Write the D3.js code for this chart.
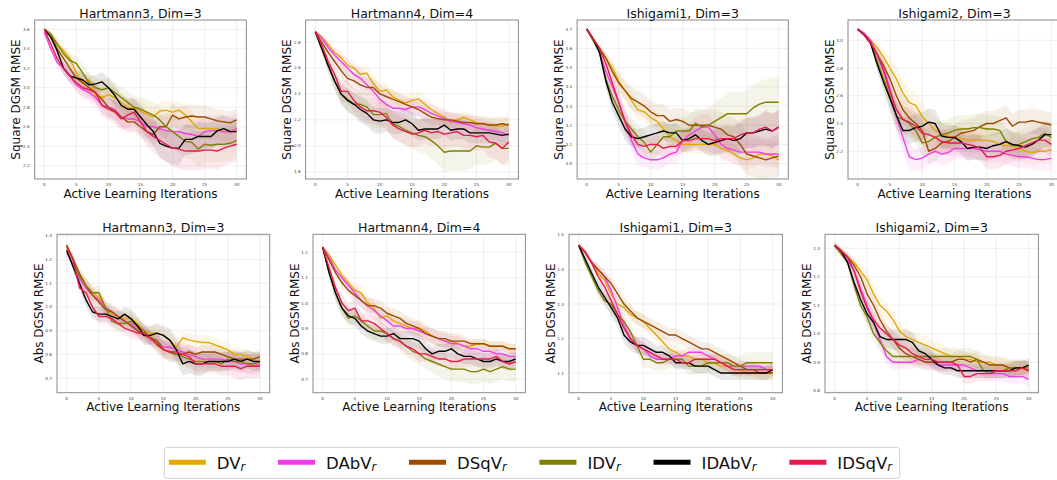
<!DOCTYPE html>
<html>
<head>
<meta charset="utf-8">
<script src="https://cdn.jsdelivr.net/npm/d3@7"></script>
<style>
  body { margin: 0; background: #fff; }
  svg { display: block; font-family: "DejaVu Sans", sans-serif; }
</style>
</head>
<body>
<script>
//<data>--------------------------------------------//
const iterations = d3.range(0, 31);
const xTickValues = [0, 5, 10, 15, 20, 25, 30];
const methodNames = ["DV", "DAbV", "DSqV", "IDV", "IDAbV", "IDSqV"];
const methodColors = ["#e2a800", "#f23de6", "#9c4a00", "#808000", "#000000", "#e8194c"];
const panelTitles = ["Hartmann3, Dim=3", "Hartmann4, Dim=4", "Ishigami1, Dim=3", "Ishigami2, Dim=3",
                     "Hartmann3, Dim=3", "Hartmann4, Dim=4", "Ishigami1, Dim=3", "Ishigami2, Dim=3"];
const panelYLabels = ["Square DGSM RMSE", "Square DGSM RMSE", "Square DGSM RMSE", "Square DGSM RMSE",
                      "Abs DGSM RMSE", "Abs DGSM RMSE", "Abs DGSM RMSE", "Abs DGSM RMSE"];
const xLabel = "Active Learning Iterations";
const panelYTicks = [
  [2.2, 2.4, 2.6, 2.8, 3.0, 3.2, 3.4, 3.6],
  [1.8, 2.0, 2.2, 2.4, 2.6, 2.8],
  [3.0, 3.1, 3.2, 3.3, 3.4, 3.5, 3.6, 3.7],
  [2.2, 2.4, 2.6, 2.8, 3.0],
  [0.7, 0.8, 0.9, 1.0, 1.1, 1.2, 1.3],
  [0.7, 0.8, 0.9, 1.0, 1.1, 1.2],
  [1.1, 1.2, 1.3, 1.4, 1.5],
  [0.8, 0.9, 1.0, 1.1, 1.2, 1.3]
];

// mean curves, one row per method (DV, DAbV, DSqV, IDV, IDAbV, IDSqV)
const h3SqMean = [
  [3.6,3.55,3.45,3.38,3.3,3.15,3.05,3.08,2.92,2.9,2.93,2.9,2.85,2.8,2.78,2.76,2.73,2.7,2.76,2.77,2.75,2.77,2.72,2.65,2.58,2.58,2.58,2.58,2.55,2.55,2.57],
  [3.57,3.4,3.26,3.2,3.12,3.03,2.98,2.95,2.9,2.82,2.8,2.78,2.7,2.68,2.68,2.65,2.6,2.6,2.58,2.56,2.55,2.55,2.53,2.52,2.5,2.55,2.56,2.56,2.55,2.55,2.58],
  [3.6,3.55,3.4,3.3,3.2,3.1,3.05,3.0,2.95,2.88,2.8,2.76,2.7,2.65,2.65,2.6,2.55,2.52,2.6,2.6,2.72,2.68,2.7,2.71,2.7,2.7,2.68,2.66,2.65,2.64,2.67],
  [3.6,3.55,3.45,3.35,3.28,3.25,3.15,3.05,3.0,2.98,3.0,2.95,2.9,2.85,2.8,2.78,2.75,2.72,2.67,2.6,2.55,2.5,2.45,2.44,2.37,2.42,2.41,2.42,2.42,2.43,2.46],
  [3.6,3.52,3.38,3.2,3.12,3.1,3.08,3.03,3.04,3.06,3.0,2.92,2.82,2.78,2.78,2.7,2.62,2.55,2.43,2.4,2.38,2.38,2.47,2.47,2.5,2.5,2.5,2.56,2.58,2.55,2.55],
  [3.6,3.45,3.3,3.2,3.12,3.05,3.0,2.98,2.95,2.82,2.78,2.75,2.68,2.72,2.75,2.65,2.55,2.5,2.46,2.42,2.38,2.37,2.35,2.35,2.35,2.36,2.36,2.35,2.38,2.4,2.42]
];
const h3SqStd = [
  [0.01,0.03,0.05,0.06,0.07,0.08,0.08,0.09,0.09,0.1,0.1,0.1,0.1,0.1,0.1,0.1,0.09,0.09,0.09,0.1,0.1,0.1,0.1,0.11,0.11,0.11,0.11,0.11,0.11,0.11,0.11],
  [0.01,0.03,0.05,0.06,0.07,0.08,0.09,0.1,0.1,0.1,0.1,0.11,0.11,0.12,0.12,0.12,0.13,0.13,0.14,0.14,0.15,0.15,0.16,0.16,0.16,0.16,0.16,0.16,0.16,0.16,0.16],
  [0.01,0.03,0.05,0.06,0.07,0.08,0.08,0.09,0.09,0.09,0.1,0.1,0.1,0.11,0.11,0.11,0.11,0.12,0.12,0.12,0.12,0.12,0.12,0.12,0.12,0.12,0.12,0.12,0.12,0.12,0.12],
  [0.01,0.03,0.05,0.06,0.07,0.08,0.09,0.1,0.1,0.1,0.1,0.11,0.11,0.11,0.12,0.12,0.13,0.13,0.14,0.15,0.16,0.17,0.17,0.18,0.18,0.18,0.18,0.18,0.18,0.18,0.18],
  [0.01,0.03,0.05,0.06,0.07,0.08,0.08,0.09,0.09,0.1,0.1,0.1,0.11,0.11,0.12,0.12,0.13,0.14,0.15,0.16,0.17,0.17,0.16,0.15,0.15,0.14,0.14,0.14,0.14,0.14,0.14],
  [0.01,0.03,0.05,0.06,0.07,0.08,0.09,0.1,0.1,0.11,0.11,0.12,0.12,0.13,0.13,0.14,0.15,0.16,0.17,0.18,0.19,0.2,0.2,0.2,0.2,0.19,0.19,0.19,0.18,0.18,0.18]
];

const h4SqMean = [
  [2.88,2.84,2.78,2.72,2.68,2.62,2.6,2.55,2.56,2.48,2.42,2.43,2.38,2.35,2.33,2.35,2.36,2.32,2.28,2.25,2.22,2.18,2.2,2.22,2.2,2.18,2.17,2.16,2.15,2.15,2.17],
  [2.88,2.83,2.76,2.7,2.65,2.6,2.55,2.52,2.47,2.42,2.36,2.32,2.29,2.29,2.28,2.3,2.3,2.28,2.25,2.23,2.21,2.19,2.18,2.17,2.16,2.14,2.13,2.12,2.11,2.1,2.08],
  [2.88,2.8,2.72,2.65,2.58,2.52,2.5,2.47,2.45,2.45,2.4,2.38,2.36,2.34,2.32,2.3,2.28,2.25,2.22,2.21,2.2,2.2,2.19,2.18,2.18,2.17,2.17,2.16,2.16,2.17,2.16],
  [2.88,2.75,2.62,2.5,2.4,2.36,2.32,2.32,2.3,2.24,2.24,2.25,2.17,2.15,2.12,2.1,2.08,2.07,2.04,2.0,1.95,1.96,1.96,1.96,1.96,2.0,1.99,1.99,2.02,1.98,1.98],
  [2.88,2.75,2.62,2.5,2.4,2.35,2.32,2.28,2.25,2.2,2.19,2.2,2.18,2.18,2.2,2.17,2.12,2.13,2.13,2.13,2.16,2.12,2.13,2.13,2.1,2.1,2.1,2.1,2.09,2.08,2.09],
  [2.88,2.78,2.65,2.55,2.42,2.42,2.35,2.3,2.27,2.27,2.26,2.22,2.16,2.13,2.11,2.09,2.1,2.12,2.1,2.11,2.09,2.1,2.11,2.08,2.08,2.07,2.08,2.03,2.02,1.98,2.03]
];
const h4SqStd = [
  [0.01,0.02,0.03,0.04,0.05,0.05,0.06,0.06,0.06,0.06,0.06,0.06,0.06,0.06,0.06,0.06,0.06,0.06,0.06,0.06,0.06,0.06,0.05,0.05,0.05,0.05,0.05,0.05,0.05,0.05,0.05],
  [0.01,0.02,0.04,0.05,0.06,0.07,0.07,0.08,0.08,0.08,0.08,0.08,0.08,0.08,0.08,0.07,0.07,0.07,0.07,0.07,0.07,0.07,0.07,0.07,0.07,0.07,0.07,0.07,0.07,0.07,0.07],
  [0.01,0.02,0.04,0.05,0.06,0.06,0.07,0.07,0.07,0.07,0.07,0.07,0.07,0.07,0.06,0.06,0.06,0.06,0.06,0.06,0.06,0.06,0.06,0.06,0.06,0.06,0.06,0.06,0.06,0.06,0.06],
  [0.01,0.03,0.05,0.07,0.08,0.09,0.09,0.1,0.1,0.1,0.1,0.1,0.11,0.11,0.12,0.12,0.13,0.13,0.14,0.14,0.15,0.15,0.15,0.15,0.14,0.14,0.14,0.13,0.13,0.13,0.13],
  [0.01,0.03,0.05,0.07,0.08,0.09,0.09,0.1,0.1,0.1,0.1,0.09,0.09,0.09,0.09,0.09,0.08,0.08,0.08,0.08,0.08,0.08,0.08,0.08,0.08,0.08,0.08,0.08,0.08,0.08,0.08],
  [0.01,0.03,0.05,0.07,0.08,0.09,0.09,0.1,0.1,0.1,0.1,0.1,0.1,0.1,0.1,0.1,0.1,0.1,0.1,0.1,0.11,0.11,0.11,0.11,0.11,0.11,0.11,0.12,0.12,0.13,0.13]
];

const i1SqMean = [
  [3.7,3.65,3.59,3.55,3.5,3.43,3.38,3.33,3.28,3.27,3.24,3.22,3.18,3.14,3.12,3.1,3.1,3.1,3.1,3.1,3.1,3.08,3.07,3.05,3.03,3.02,3.03,3.05,3.05,3.04,3.02],
  [3.7,3.65,3.58,3.48,3.4,3.32,3.22,3.12,3.05,3.03,3.02,3.02,3.03,3.05,3.06,3.12,3.15,3.17,3.19,3.19,3.15,3.1,3.08,3.07,3.06,3.06,3.06,3.06,3.05,3.05,3.05],
  [3.7,3.65,3.6,3.55,3.48,3.42,3.38,3.34,3.32,3.3,3.27,3.25,3.25,3.22,3.23,3.22,3.2,3.2,3.2,3.2,3.19,3.18,3.15,3.14,3.1,3.05,3.04,3.03,3.02,3.03,3.04],
  [3.7,3.64,3.58,3.44,3.35,3.28,3.22,3.18,3.14,3.11,3.06,3.1,3.14,3.14,3.17,3.17,3.17,3.21,3.19,3.2,3.22,3.24,3.26,3.26,3.26,3.26,3.29,3.31,3.32,3.32,3.32],
  [3.7,3.65,3.58,3.43,3.32,3.25,3.18,3.14,3.13,3.14,3.15,3.16,3.17,3.16,3.16,3.12,3.13,3.15,3.12,3.1,3.11,3.12,3.13,3.12,3.13,3.16,3.16,3.17,3.18,3.17,3.19],
  [3.7,3.65,3.6,3.52,3.42,3.32,3.22,3.15,3.1,3.09,3.1,3.1,3.08,3.09,3.09,3.12,3.12,3.13,3.13,3.13,3.12,3.13,3.13,3.13,3.15,3.16,3.16,3.18,3.19,3.17,3.19]
];
const i1SqStd = [
  [0.01,0.01,0.02,0.03,0.04,0.05,0.05,0.05,0.05,0.05,0.05,0.05,0.05,0.05,0.05,0.05,0.05,0.05,0.05,0.05,0.05,0.05,0.05,0.05,0.05,0.05,0.05,0.05,0.05,0.05,0.05],
  [0.01,0.01,0.02,0.04,0.05,0.06,0.06,0.06,0.06,0.05,0.05,0.05,0.05,0.05,0.06,0.06,0.06,0.07,0.07,0.07,0.07,0.07,0.07,0.07,0.07,0.07,0.07,0.07,0.07,0.07,0.07],
  [0.01,0.01,0.02,0.03,0.04,0.05,0.05,0.06,0.06,0.06,0.06,0.06,0.06,0.06,0.06,0.07,0.07,0.07,0.08,0.08,0.09,0.09,0.1,0.1,0.11,0.11,0.11,0.11,0.11,0.11,0.11],
  [0.01,0.01,0.02,0.04,0.05,0.06,0.06,0.06,0.06,0.06,0.06,0.06,0.06,0.06,0.07,0.07,0.08,0.08,0.09,0.09,0.1,0.1,0.11,0.11,0.11,0.12,0.12,0.12,0.12,0.13,0.13],
  [0.01,0.01,0.02,0.04,0.05,0.06,0.06,0.05,0.05,0.05,0.05,0.05,0.05,0.05,0.05,0.06,0.06,0.06,0.06,0.06,0.07,0.07,0.07,0.07,0.08,0.08,0.08,0.08,0.09,0.09,0.09],
  [0.01,0.01,0.02,0.04,0.05,0.06,0.06,0.06,0.05,0.05,0.05,0.05,0.05,0.05,0.05,0.06,0.06,0.06,0.06,0.07,0.07,0.07,0.07,0.07,0.08,0.08,0.08,0.08,0.09,0.09,0.09]
];

const i2SqMean = [
  [3.08,3.05,3.0,2.95,2.88,2.8,2.72,2.62,2.55,2.53,2.45,2.4,2.35,2.32,2.31,2.3,2.29,2.28,2.28,2.28,2.28,2.27,2.25,2.24,2.24,2.22,2.2,2.19,2.2,2.2,2.21],
  [3.08,3.05,3.0,2.9,2.8,2.65,2.45,2.3,2.16,2.14,2.15,2.18,2.2,2.18,2.19,2.22,2.22,2.22,2.22,2.21,2.2,2.2,2.2,2.18,2.17,2.16,2.16,2.15,2.14,2.14,2.15],
  [3.08,3.04,2.98,2.9,2.82,2.72,2.6,2.5,2.44,2.4,2.35,2.2,2.22,2.26,2.27,2.3,2.33,2.34,2.35,2.38,2.4,2.4,2.42,2.44,2.38,2.41,2.41,2.42,2.41,2.4,2.39],
  [3.08,3.04,2.98,2.85,2.72,2.6,2.45,2.43,2.4,2.35,2.26,2.27,2.3,2.32,2.33,2.35,2.36,2.36,2.37,2.37,2.36,2.36,2.35,2.27,2.24,2.25,2.27,2.29,2.3,2.33,2.3],
  [3.08,3.04,2.98,2.83,2.7,2.58,2.46,2.35,2.35,2.37,2.38,2.41,2.4,2.31,2.3,2.3,2.27,2.22,2.23,2.23,2.22,2.24,2.25,2.27,2.25,2.24,2.23,2.25,2.28,2.32,2.32],
  [3.08,3.04,2.98,2.9,2.78,2.63,2.5,2.43,2.41,2.38,2.33,2.32,2.3,2.27,2.26,2.26,2.26,2.25,2.24,2.22,2.16,2.16,2.17,2.2,2.21,2.22,2.24,2.26,2.28,2.28,2.25]
];
const i2SqStd = [
  [0.01,0.01,0.02,0.04,0.06,0.08,0.09,0.1,0.1,0.1,0.1,0.09,0.09,0.09,0.09,0.09,0.09,0.09,0.09,0.09,0.09,0.09,0.09,0.09,0.09,0.09,0.09,0.09,0.09,0.09,0.09],
  [0.01,0.01,0.02,0.04,0.06,0.08,0.1,0.1,0.09,0.08,0.08,0.08,0.08,0.08,0.08,0.08,0.08,0.08,0.08,0.08,0.08,0.08,0.08,0.08,0.08,0.08,0.08,0.08,0.08,0.08,0.08],
  [0.01,0.01,0.02,0.04,0.06,0.08,0.09,0.1,0.1,0.1,0.1,0.09,0.09,0.09,0.09,0.09,0.09,0.09,0.09,0.09,0.09,0.09,0.09,0.09,0.09,0.09,0.09,0.09,0.09,0.09,0.09],
  [0.01,0.01,0.02,0.05,0.07,0.09,0.1,0.1,0.1,0.1,0.1,0.1,0.1,0.1,0.1,0.1,0.1,0.1,0.1,0.1,0.1,0.1,0.1,0.1,0.1,0.1,0.1,0.1,0.1,0.1,0.1],
  [0.01,0.01,0.02,0.05,0.07,0.09,0.1,0.1,0.1,0.1,0.1,0.1,0.1,0.09,0.09,0.09,0.09,0.09,0.09,0.09,0.09,0.09,0.09,0.09,0.09,0.09,0.09,0.09,0.09,0.09,0.09],
  [0.01,0.01,0.02,0.04,0.07,0.09,0.1,0.1,0.1,0.1,0.09,0.09,0.09,0.09,0.09,0.09,0.09,0.09,0.09,0.09,0.09,0.09,0.09,0.09,0.09,0.09,0.09,0.09,0.09,0.09,0.09]
];

const h3AbsMean = [
  [1.25,1.2,1.14,1.09,1.06,1.04,1.0,0.97,0.96,0.95,0.95,0.93,0.9,0.89,0.89,0.88,0.86,0.83,0.87,0.86,0.855,0.85,0.85,0.84,0.83,0.82,0.8,0.8,0.79,0.78,0.76],
  [1.23,1.18,1.12,1.08,1.05,1.03,1.0,0.98,0.96,0.94,0.93,0.91,0.9,0.86,0.86,0.83,0.83,0.82,0.81,0.8,0.79,0.78,0.78,0.78,0.78,0.77,0.77,0.76,0.76,0.75,0.76],
  [1.26,1.2,1.14,1.09,1.05,1.02,0.99,0.98,0.96,0.94,0.92,0.9,0.88,0.87,0.84,0.82,0.81,0.8,0.8,0.81,0.8,0.81,0.81,0.81,0.8,0.79,0.78,0.78,0.78,0.78,0.79],
  [1.26,1.2,1.13,1.09,1.06,1.06,1.0,0.94,0.93,0.93,0.94,0.92,0.9,0.87,0.86,0.82,0.81,0.8,0.79,0.78,0.77,0.77,0.77,0.77,0.76,0.78,0.77,0.77,0.76,0.76,0.77],
  [1.24,1.17,1.1,1.03,0.98,0.97,0.97,0.96,0.95,0.97,0.95,0.92,0.88,0.88,0.89,0.88,0.86,0.82,0.76,0.77,0.76,0.76,0.77,0.77,0.77,0.77,0.78,0.77,0.78,0.77,0.77],
  [1.26,1.2,1.08,1.06,1.0,0.96,0.96,0.95,0.93,0.91,0.9,0.89,0.89,0.87,0.85,0.82,0.81,0.81,0.8,0.79,0.76,0.76,0.76,0.76,0.75,0.75,0.75,0.74,0.75,0.75,0.75]
];
const h3AbsStd = [
  [0.01,0.02,0.02,0.03,0.03,0.03,0.03,0.03,0.03,0.03,0.03,0.03,0.03,0.03,0.03,0.03,0.03,0.03,0.03,0.03,0.03,0.03,0.03,0.03,0.03,0.03,0.03,0.03,0.03,0.03,0.03],
  [0.01,0.02,0.02,0.03,0.03,0.03,0.03,0.03,0.03,0.03,0.03,0.03,0.03,0.03,0.03,0.03,0.03,0.03,0.04,0.04,0.04,0.04,0.04,0.04,0.04,0.04,0.04,0.04,0.04,0.04,0.04],
  [0.01,0.02,0.02,0.03,0.03,0.03,0.03,0.03,0.03,0.03,0.03,0.03,0.03,0.03,0.03,0.03,0.03,0.03,0.03,0.03,0.03,0.03,0.03,0.03,0.03,0.03,0.03,0.03,0.03,0.03,0.03],
  [0.01,0.02,0.02,0.03,0.03,0.03,0.03,0.03,0.03,0.03,0.03,0.03,0.03,0.03,0.03,0.03,0.04,0.04,0.04,0.04,0.04,0.04,0.04,0.04,0.04,0.04,0.04,0.04,0.04,0.04,0.04],
  [0.01,0.02,0.02,0.03,0.03,0.03,0.03,0.03,0.03,0.03,0.04,0.04,0.04,0.04,0.04,0.04,0.05,0.05,0.05,0.05,0.05,0.05,0.04,0.04,0.04,0.04,0.04,0.04,0.04,0.04,0.04],
  [0.01,0.02,0.02,0.03,0.03,0.03,0.03,0.03,0.03,0.03,0.03,0.03,0.03,0.03,0.04,0.04,0.04,0.04,0.04,0.04,0.04,0.04,0.04,0.04,0.04,0.04,0.05,0.05,0.05,0.05,0.05]
];

const h4AbsMean = [
  [1.22,1.19,1.15,1.11,1.08,1.05,1.04,1.0,0.98,0.94,0.95,0.93,0.92,0.91,0.9,0.9,0.89,0.87,0.86,0.85,0.85,0.84,0.83,0.83,0.84,0.84,0.83,0.83,0.83,0.82,0.82],
  [1.22,1.18,1.13,1.1,1.07,1.04,1.01,0.99,0.97,0.95,0.93,0.91,0.91,0.9,0.9,0.89,0.88,0.87,0.86,0.85,0.84,0.84,0.83,0.82,0.82,0.81,0.81,0.8,0.8,0.79,0.79],
  [1.22,1.17,1.12,1.08,1.05,1.03,1.01,0.99,0.99,0.98,0.96,0.95,0.94,0.92,0.91,0.9,0.88,0.87,0.86,0.86,0.85,0.85,0.85,0.84,0.84,0.84,0.83,0.83,0.83,0.82,0.82],
  [1.22,1.12,1.04,0.98,0.94,0.95,0.93,0.91,0.89,0.89,0.88,0.86,0.85,0.83,0.81,0.8,0.78,0.77,0.76,0.75,0.74,0.74,0.74,0.73,0.73,0.74,0.73,0.74,0.75,0.74,0.74],
  [1.22,1.12,1.04,0.98,0.95,0.94,0.91,0.89,0.88,0.87,0.87,0.88,0.86,0.86,0.86,0.85,0.82,0.8,0.81,0.81,0.82,0.8,0.79,0.79,0.78,0.77,0.77,0.78,0.77,0.77,0.78],
  [1.22,1.14,1.06,1.0,0.97,0.98,0.93,0.93,0.92,0.9,0.88,0.86,0.85,0.83,0.82,0.8,0.8,0.79,0.78,0.78,0.77,0.77,0.78,0.78,0.78,0.78,0.78,0.79,0.77,0.76,0.77]
];
const h4AbsStd = [
  [0.01,0.01,0.02,0.02,0.02,0.03,0.03,0.03,0.03,0.03,0.03,0.03,0.03,0.03,0.03,0.03,0.03,0.03,0.03,0.03,0.03,0.03,0.02,0.02,0.02,0.02,0.02,0.02,0.02,0.02,0.02],
  [0.01,0.01,0.02,0.02,0.02,0.03,0.03,0.03,0.03,0.03,0.03,0.03,0.03,0.03,0.03,0.03,0.03,0.03,0.03,0.03,0.03,0.03,0.03,0.03,0.03,0.03,0.03,0.03,0.03,0.03,0.03],
  [0.01,0.01,0.02,0.02,0.02,0.03,0.03,0.03,0.03,0.03,0.03,0.03,0.03,0.03,0.03,0.03,0.03,0.03,0.03,0.03,0.03,0.03,0.02,0.02,0.02,0.02,0.02,0.02,0.02,0.02,0.02],
  [0.01,0.02,0.03,0.03,0.03,0.03,0.03,0.03,0.03,0.03,0.03,0.03,0.03,0.04,0.04,0.04,0.04,0.04,0.05,0.05,0.05,0.05,0.05,0.05,0.05,0.05,0.05,0.05,0.05,0.05,0.05],
  [0.01,0.02,0.03,0.03,0.03,0.03,0.03,0.03,0.03,0.03,0.03,0.03,0.03,0.03,0.03,0.03,0.03,0.03,0.03,0.03,0.03,0.03,0.03,0.03,0.03,0.03,0.03,0.03,0.03,0.03,0.03],
  [0.01,0.02,0.03,0.03,0.03,0.03,0.03,0.03,0.03,0.03,0.03,0.03,0.03,0.03,0.03,0.03,0.03,0.03,0.03,0.03,0.03,0.03,0.03,0.03,0.03,0.03,0.03,0.03,0.03,0.03,0.03]
];

const i1AbsMean = [
  [1.47,1.45,1.42,1.39,1.37,1.33,1.3,1.29,1.27,1.26,1.25,1.23,1.21,1.19,1.17,1.16,1.15,1.15,1.14,1.14,1.13,1.13,1.12,1.12,1.11,1.11,1.1,1.1,1.1,1.1,1.1],
  [1.47,1.45,1.42,1.4,1.38,1.34,1.29,1.24,1.2,1.18,1.17,1.15,1.14,1.14,1.14,1.15,1.15,1.16,1.16,1.16,1.15,1.14,1.13,1.12,1.12,1.12,1.12,1.12,1.12,1.11,1.11],
  [1.47,1.45,1.42,1.4,1.38,1.36,1.33,1.3,1.28,1.26,1.25,1.24,1.23,1.22,1.21,1.21,1.2,1.19,1.18,1.17,1.17,1.16,1.15,1.14,1.13,1.12,1.11,1.11,1.1,1.1,1.1],
  [1.47,1.42,1.38,1.34,1.31,1.3,1.27,1.25,1.22,1.18,1.14,1.14,1.13,1.13,1.14,1.14,1.14,1.12,1.12,1.12,1.13,1.13,1.13,1.13,1.12,1.12,1.13,1.13,1.13,1.13,1.13],
  [1.47,1.43,1.39,1.35,1.32,1.29,1.26,1.21,1.19,1.18,1.18,1.17,1.16,1.16,1.15,1.13,1.13,1.13,1.12,1.12,1.12,1.11,1.1,1.1,1.1,1.1,1.1,1.1,1.1,1.1,1.11],
  [1.47,1.45,1.42,1.38,1.35,1.31,1.27,1.23,1.2,1.18,1.17,1.16,1.15,1.14,1.14,1.14,1.13,1.13,1.14,1.14,1.14,1.14,1.13,1.12,1.11,1.11,1.11,1.11,1.11,1.11,1.11]
];
const i1AbsStd = [
  [0.005,0.01,0.01,0.015,0.015,0.02,0.02,0.02,0.02,0.02,0.02,0.02,0.02,0.02,0.02,0.02,0.02,0.02,0.02,0.02,0.02,0.02,0.02,0.02,0.02,0.02,0.02,0.02,0.02,0.02,0.02],
  [0.005,0.01,0.01,0.015,0.02,0.02,0.02,0.02,0.02,0.02,0.02,0.015,0.015,0.015,0.015,0.015,0.015,0.015,0.015,0.015,0.015,0.015,0.015,0.015,0.015,0.015,0.015,0.015,0.015,0.015,0.015],
  [0.005,0.01,0.01,0.015,0.015,0.02,0.02,0.02,0.02,0.02,0.02,0.02,0.02,0.02,0.02,0.02,0.02,0.02,0.02,0.02,0.02,0.02,0.02,0.02,0.02,0.02,0.02,0.02,0.02,0.02,0.02],
  [0.005,0.01,0.015,0.02,0.02,0.025,0.025,0.025,0.025,0.025,0.025,0.025,0.025,0.025,0.025,0.025,0.025,0.025,0.025,0.025,0.025,0.025,0.025,0.025,0.03,0.03,0.03,0.03,0.03,0.03,0.03],
  [0.005,0.01,0.015,0.02,0.02,0.025,0.025,0.025,0.025,0.025,0.025,0.025,0.02,0.02,0.02,0.02,0.02,0.02,0.02,0.02,0.02,0.02,0.02,0.02,0.02,0.02,0.02,0.02,0.02,0.02,0.02],
  [0.005,0.01,0.01,0.015,0.02,0.02,0.02,0.02,0.02,0.02,0.02,0.015,0.015,0.015,0.015,0.015,0.015,0.015,0.015,0.015,0.015,0.015,0.015,0.015,0.015,0.015,0.015,0.015,0.015,0.015,0.015]
];

const i2AbsMean = [
  [1.31,1.29,1.27,1.25,1.22,1.19,1.14,1.1,1.08,1.05,1.01,0.99,0.98,0.97,0.96,0.95,0.94,0.93,0.92,0.92,0.91,0.91,0.9,0.9,0.9,0.89,0.89,0.88,0.88,0.88,0.88],
  [1.31,1.29,1.26,1.22,1.16,1.1,1.04,0.98,0.92,0.9,0.9,0.9,0.9,0.91,0.9,0.9,0.89,0.89,0.89,0.89,0.89,0.88,0.87,0.87,0.86,0.86,0.86,0.85,0.85,0.85,0.84],
  [1.31,1.29,1.27,1.24,1.2,1.14,1.1,1.05,1.01,0.98,0.95,0.93,0.92,0.91,0.9,0.9,0.9,0.9,0.9,0.91,0.91,0.9,0.91,0.9,0.89,0.89,0.89,0.88,0.88,0.88,0.87],
  [1.31,1.28,1.25,1.17,1.1,1.06,1.0,0.97,0.94,0.92,0.92,0.92,0.92,0.92,0.92,0.92,0.92,0.92,0.92,0.92,0.92,0.92,0.91,0.87,0.87,0.87,0.87,0.88,0.88,0.88,0.88],
  [1.31,1.29,1.25,1.18,1.12,1.07,1.04,0.99,0.98,0.98,0.98,0.98,0.97,0.94,0.93,0.91,0.89,0.88,0.88,0.87,0.87,0.87,0.87,0.87,0.87,0.87,0.87,0.87,0.88,0.88,0.89],
  [1.31,1.29,1.27,1.22,1.15,1.09,1.05,1.02,1.0,0.98,0.96,0.95,0.93,0.92,0.91,0.91,0.9,0.9,0.9,0.89,0.85,0.85,0.86,0.86,0.86,0.87,0.87,0.87,0.87,0.88,0.87]
];
const i2AbsStd = [
  [0.01,0.01,0.015,0.02,0.025,0.03,0.03,0.03,0.03,0.03,0.03,0.03,0.03,0.03,0.03,0.03,0.03,0.025,0.025,0.025,0.025,0.025,0.025,0.025,0.025,0.025,0.025,0.025,0.025,0.025,0.025],
  [0.01,0.01,0.015,0.02,0.025,0.03,0.03,0.03,0.03,0.03,0.025,0.025,0.025,0.025,0.025,0.025,0.025,0.025,0.025,0.025,0.025,0.025,0.025,0.025,0.025,0.025,0.025,0.025,0.025,0.025,0.025],
  [0.01,0.01,0.015,0.02,0.025,0.03,0.03,0.03,0.03,0.03,0.03,0.03,0.03,0.03,0.03,0.03,0.03,0.03,0.03,0.03,0.03,0.03,0.03,0.03,0.03,0.03,0.03,0.03,0.03,0.03,0.03],
  [0.01,0.01,0.015,0.025,0.03,0.03,0.03,0.03,0.03,0.03,0.03,0.03,0.03,0.03,0.03,0.03,0.03,0.03,0.03,0.03,0.03,0.03,0.03,0.025,0.025,0.025,0.025,0.025,0.025,0.025,0.025],
  [0.01,0.01,0.015,0.025,0.03,0.03,0.03,0.03,0.03,0.035,0.035,0.035,0.035,0.03,0.03,0.03,0.025,0.025,0.025,0.025,0.025,0.025,0.025,0.025,0.025,0.025,0.025,0.025,0.025,0.025,0.025],
  [0.01,0.01,0.015,0.02,0.025,0.03,0.03,0.03,0.03,0.03,0.03,0.03,0.03,0.03,0.025,0.025,0.025,0.025,0.025,0.025,0.025,0.025,0.025,0.025,0.025,0.025,0.025,0.025,0.025,0.025,0.025]
];

const panelMeans = [h3SqMean, h4SqMean, i1SqMean, i2SqMean, h3AbsMean, h4AbsMean, i1AbsMean, i2AbsMean];
const panelStds = [h3SqStd, h4SqStd, i1SqStd, i2SqStd, h3AbsStd, h4AbsStd, i1AbsStd, i2AbsStd];

//<layout>------------------------------------------//
const W = 1057, H = 480;
const panelBoxes = [
  { l: 34.7, r: 246.3, t: 20, b: 179 },
  { l: 305.6, r: 518.4, t: 20, b: 179 },
  { l: 577.1, r: 788.3, t: 20, b: 179 },
  { l: 848, r: 1061, t: 20, b: 179 },
  { l: 57, r: 269.7, t: 234.3, b: 392.7 },
  { l: 313, r: 525.4, t: 234.3, b: 392.7 },
  { l: 569, r: 782.4, t: 234.3, b: 392.7 },
  { l: 825, r: 1038.4, t: 234.3, b: 392.7 }
];
const yDomains = [[2.063, 3.696], [1.744, 2.97], [2.92, 3.748], [2.0, 3.146],
                  [0.638, 1.307], [0.647, 1.271], [1.043, 1.502], [0.793, 1.349]];

var svg = d3.select("body").append("svg")
  .attr("width", W).attr("height", H)
  .attr("viewBox", "0 0 " + W + " " + H);

var fmt = d3.format(".1f");

//<drawPanels>--------------------------------------//
panelMeans.forEach(function (means, p) {
  var box = panelBoxes[p];
  var x = d3.scaleLinear().domain([-1.5, 31.5]).range([box.l, box.r]);
  var y = d3.scaleLinear().domain(yDomains[p]).range([box.b, box.t]);
  var g = svg.append("g").attr("class", "panel");

  g.append("clipPath").attr("id", "clip" + p).append("rect")
    .attr("x", box.l).attr("y", box.t).attr("width", box.r - box.l).attr("height", box.b - box.t);

  // grid
  g.selectAll(".gx").data(xTickValues).enter().append("line")
    .attr("x1", d => x(d)).attr("x2", d => x(d)).attr("y1", box.t).attr("y2", box.b)
    .attr("stroke", "#ebebeb").attr("stroke-width", 0.8);
  g.selectAll(".gy").data(panelYTicks[p]).enter().append("line")
    .attr("y1", d => y(d)).attr("y2", d => y(d)).attr("x1", box.l).attr("x2", box.r)
    .attr("stroke", "#ebebeb").attr("stroke-width", 0.8);

  var plot = g.append("g").attr("clip-path", "url(#clip" + p + ")");
  var stds = panelStds[p];

  // bands under every line
  means.forEach(function (m, k) {
    var area = d3.area()
      .x((d, i) => x(iterations[i]))
      .y0((d, i) => y(m[i] - stds[k][i]))
      .y1((d, i) => y(m[i] + stds[k][i]));
    plot.append("path").datum(m).attr("d", area)
      .attr("fill", methodColors[k]).attr("fill-opacity", 0.09).attr("stroke", "none");
  });
  means.forEach(function (m, k) {
    var line = d3.line().x((d, i) => x(iterations[i])).y(d => y(d));
    plot.append("path").datum(m).attr("d", line)
      .attr("fill", "none").attr("stroke", methodColors[k])
      .attr("stroke-width", 1.4).attr("stroke-linejoin", "round");
  });

  // frame
  g.append("rect").attr("x", box.l).attr("y", box.t)
    .attr("width", box.r - box.l).attr("height", box.b - box.t)
    .attr("fill", "none").attr("stroke", "#8a8a8a").attr("stroke-width", 1);

  // tick labels
  g.selectAll(".tx").data(xTickValues).enter().append("text")
    .attr("x", d => x(d)).attr("y", box.b + 6.8)
    .attr("text-anchor", "middle").style("font-size", "4.2px").attr("fill", "#444")
    .text(d => d);
  g.selectAll(".ty").data(panelYTicks[p]).enter().append("text")
    .attr("x", box.l - 5).attr("y", d => y(d) + 1.5)
    .attr("text-anchor", "end").style("font-size", "4.2px").attr("fill", "#444")
    .text(d => fmt(d));

  // titles
  var cx = (box.l + box.r) / 2;
  g.append("text").attr("x", cx).attr("y", box.t - 2)
    .attr("text-anchor", "middle").style("font-size", "12.5px").attr("fill", "#111")
    .text(panelTitles[p]);
  g.append("text").attr("x", cx).attr("y", box.b + 18.5)
    .attr("text-anchor", "middle").style("font-size", "12px").attr("fill", "#111")
    .text(xLabel);
  g.append("text")
    .attr("transform", "translate(" + (box.l - 14.5) + "," + ((box.t + box.b) / 2) + ") rotate(-90)")
    .attr("text-anchor", "middle").style("font-size", "12px").attr("fill", "#111")
    .text(panelYLabels[p]);
});

//<legend>------------------------------------------//
var legend = svg.append("g").attr("id", "legend");
var legendBox = legend.append("rect");
var items = [];
methodNames.forEach(function (name, k) {
  var it = legend.append("g");
  it.append("line").attr("x1", 0).attr("x2", 37).attr("y1", 0).attr("y2", 0)
    .attr("stroke", methodColors[k]).attr("stroke-width", 5);
  var t = it.append("text").attr("x", 48).attr("y", 6.5).style("font-size", "16.5px").attr("fill", "#111");
  t.append("tspan").text(name);
  t.append("tspan").attr("dy", 2.5).style("font-size", "11.5px").style("font-style", "italic").text("r");
  items.push({ g: it, w: 48 + t.node().getBBox().width });
});
var gapItems = 31.5;
var totalW = d3.sum(items, d => d.w) + gapItems * (items.length - 1);
var startX = 531 - totalW / 2;
var px = startX;
items.forEach(function (d) {
  d.g.attr("transform", "translate(" + px + ",462.3)");
  px += d.w + gapItems;
});
legendBox.attr("x", startX - 4.5).attr("y", 447.3)
  .attr("width", totalW + 11).attr("height", 31)
  .attr("rx", 3).attr("fill", "#fff").attr("stroke", "#d0d0d0").attr("stroke-width", 1);
</script>
</body>
</html>
